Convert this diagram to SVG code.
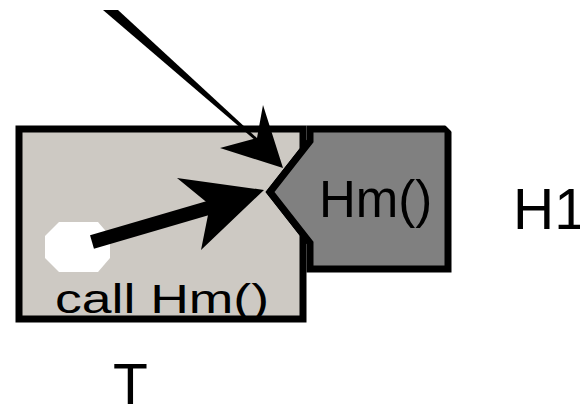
<svg xmlns="http://www.w3.org/2000/svg" width="580" height="406" viewBox="0 0 580 406">
<style>
.box{stroke:#000;stroke-width:7;stroke-linejoin:miter;stroke-miterlimit:10}
.lbl{font-family:"Liberation Sans",Arial,Helvetica,sans-serif;fill:#000}
.arr{fill:#000;stroke:none}
</style>
<defs>
<clipPath id="h1clip"><polygon points="0,0 445,0 445,125 452,132 580,132 580,406 0,406"/></clipPath>
</defs>
<rect width="580" height="406" fill="#fff"/>
<g id="T">
<polygon class="box" fill="#cdc9c3" points="19,129 303,129 303,150 270,192 303,234 303,319 19,319"/>
<polygon fill="#fff" points="59,222 98,222 110,236 110,258 98,272 59,272 45,258 45,236"/>
<text class="lbl" x="55" y="313" font-size="40" textLength="214" lengthAdjust="spacingAndGlyphs">call Hm()</text>
</g>
<g id="H1" clip-path="url(#h1clip)">
<polygon class="box" fill="#808080" points="310,129 448,129 448,269 310,269 310,243 270,192 310,141"/>
<text class="lbl" x="319" y="217" font-size="51">Hm()</text>
</g>
<g id="labels">
<text class="lbl" x="513" y="229" font-size="57">H1</text>
<text class="lbl" x="113" y="404" font-size="57">T</text>
</g>
<g id="connectors">
<polygon class="arr" points="103,10 118,10 258,139 256,141"/>
<polygon class="arr" points="283,168 263,105 257,138 220,148"/>
<line x1="92" y1="242" x2="215" y2="206" stroke="#000" stroke-width="14"/>
<polygon class="arr" points="264,190 177,178 210,205 201,250"/>
</g>
</svg>
